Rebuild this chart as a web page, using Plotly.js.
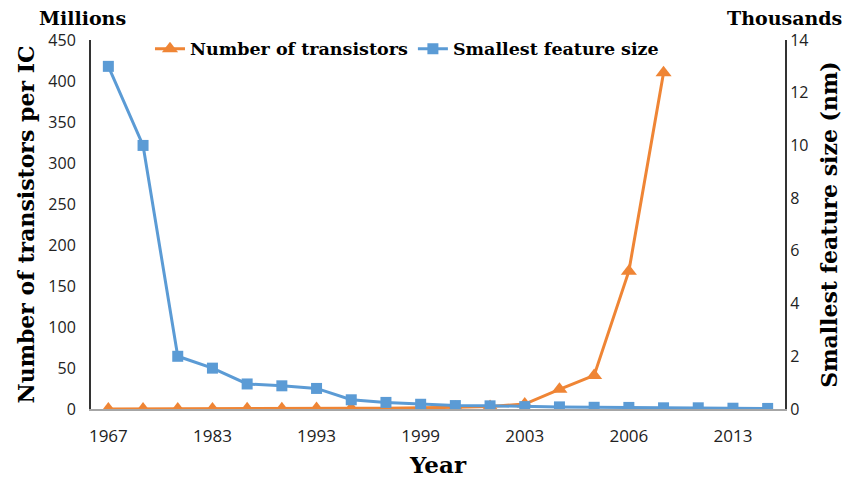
<!DOCTYPE html>
<html>
<head>
<meta charset="utf-8">
<script src="https://cdn.plot.ly/plotly-3.0.1.min.js"></script>
<style>html,body{margin:0;padding:0;background:#fff;}#chart{width:846px;height:480px;}</style>
</head>
<body>
<div id="chart"></div>
<script>
// Categories (years); only every third one is labelled on the axis
const years = ['1967','1971','1974','1983','1985','1989','1993','1995','1997','1999','2001','2002','2003','2004','2005','2006','2008','2010','2013','2015'];
const tickLabels = ['1967','1983','1993','1999','2003','2006','2013'];
// Number of transistors per IC (millions), left axis
const transistorYears = years.slice(0, 17);
const transistors = [0.002, 0.0023, 0.006, 0.134, 0.275, 0.3, 0.6, 0.8, 1, 1.2, 2, 3, 6, 24, 41, 168, 410];
// Smallest feature size (thousands of nm), right axis
const featureSize = [13, 10, 2, 1.55, 0.95, 0.88, 0.78, 0.35, 0.25, 0.18, 0.13, 0.12, 0.09, 0.08, 0.065, 0.06, 0.045, 0.045, 0.03, 0.022];

const serif = 'DejaVu Serif, Liberation Serif, serif';
const sans = 'Open Sans, Noto Sans, sans-serif';

const traces = [
  {x: transistorYears, y: transistors, name: 'Number of transistors', type: 'scatter', mode: 'lines+markers',
   line: {color: '#EF8535', width: 3}, marker: {symbol: 'triangle-up', size: 14, color: '#EF8535'}, yaxis: 'y'},
  {x: years, y: featureSize, name: 'Smallest feature size', type: 'scatter', mode: 'lines+markers',
   line: {color: '#5B9BD5', width: 3}, marker: {symbol: 'square', size: 11, color: '#5B9BD5'}, yaxis: 'y2'}
];

const layout = {
  width: 846, height: 480,
  margin: {l: 91, r: 61, t: 40, b: 71},
  paper_bgcolor: '#fff', plot_bgcolor: '#fff',
  showlegend: true,
  legend: {orientation: 'h', x: 0.085, y: 1.025, xanchor: 'left', yanchor: 'top',
           font: {family: serif, size: 17.5, color: '#000', weight: 'bold'}, bgcolor: 'rgba(0,0,0,0)',
           itemwidth: 30, tracegroupgap: 0},
  xaxis: {type: 'category', categoryorder: 'array', categoryarray: years,
          tickvals: tickLabels, ticktext: tickLabels, showgrid: false, zeroline: false,
          showline: true, linecolor: '#A6A6A6', linewidth: 2, ticks: '', ticklabelstandoff: 11,
          tickfont: {family: sans, size: 17, color: '#222'},
          range: [-0.5, 19.5],
          title: {text: 'Year', font: {family: serif, size: 23, color: '#000', weight: 'bold'}, standoff: 10}},
  yaxis: {range: [0, 450], dtick: 50, showgrid: false, zeroline: false, showline: true, ticklabelstandoff: 10,
          linecolor: '#333', linewidth: 2, ticks: '', tickfont: {family: sans, size: 16, color: '#222'},
          title: {text: 'Number of transistors per IC', font: {family: serif, size: 22, color: '#000', weight: 'bold'}, standoff: 8}},
  yaxis2: {range: [0, 14], dtick: 2, overlaying: 'y', side: 'right', showgrid: false, zeroline: false,
           showline: true, linecolor: '#333', linewidth: 2, ticks: '', tickfont: {family: sans, size: 16, color: '#222'},
           title: {text: 'Smallest feature size (nm)', font: {family: serif, size: 22, color: '#000', weight: 'bold'}, standoff: 14}},
  annotations: [
    {text: 'Millions', xref: 'paper', yref: 'paper', x: -0.078, y: 1.06, xanchor: 'left', yanchor: 'middle',
     showarrow: false, font: {family: serif, size: 19, color: '#000', weight: 'bold'}},
    {text: 'Thousands', xref: 'paper', yref: 'paper', x: 1.085, y: 1.06, xanchor: 'right', yanchor: 'middle',
     showarrow: false, font: {family: serif, size: 19, color: '#000', weight: 'bold'}}
  ]
};

Plotly.newPlot('chart', traces, layout, {displayModeBar: false, staticPlot: true});
</script>
</body>
</html>
